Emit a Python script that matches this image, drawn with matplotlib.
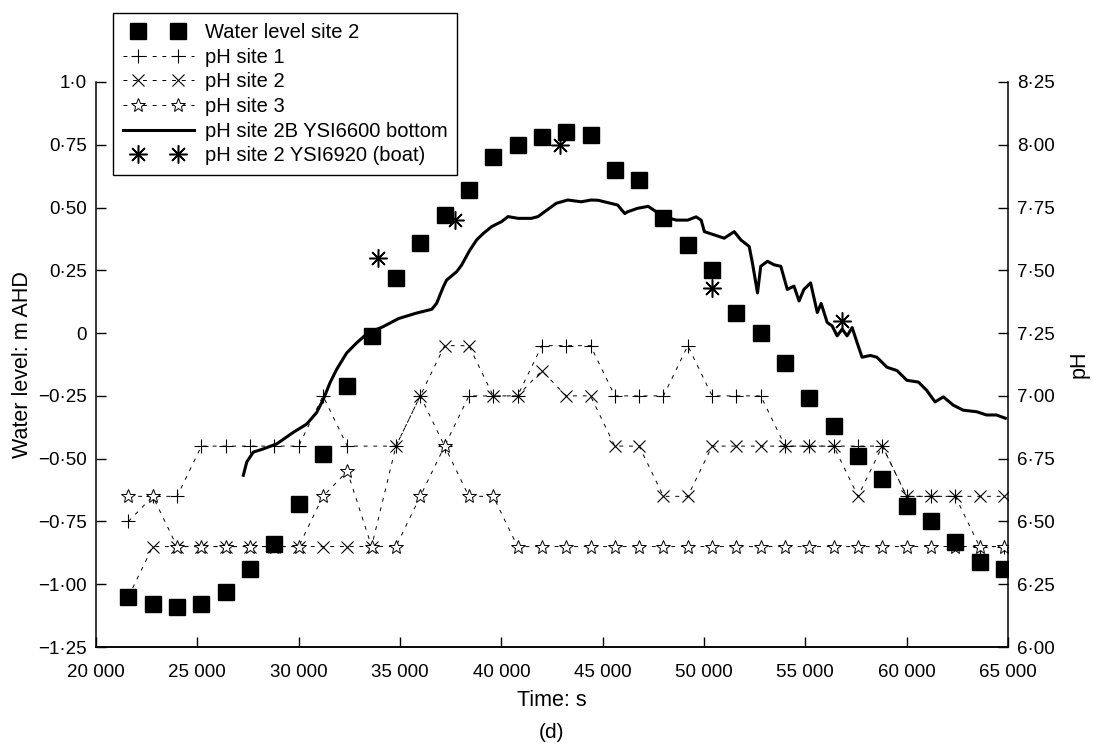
import matplotlib.pyplot as plt
from matplotlib.legend_handler import HandlerLine2DCompound

plt.rcParams['font.family'] = ['Liberation Sans', 'DejaVu Sans']
plt.rcParams['font.size'] = 13.5

# Spot samples every 20 min (s)
sample_time = [21600, 22800, 24000, 25200, 26400, 27600, 28800, 30000, 31200,
               32400, 33600, 34800, 36000, 37200, 38400, 39600, 40800, 42000,
               43200, 44400, 45600, 46800, 48000, 49200, 50400, 51600, 52800,
               54000, 55200, 56400, 57600, 58800, 60000, 61200, 62400, 63600,
               64800]

# Water level at site 2 (m AHD)
water_level = [-1.05, -1.08, -1.09, -1.08, -1.03, -0.94, -0.84, -0.68, -0.48,
               -0.21, -0.01, 0.22, 0.36, 0.47, 0.57, 0.70, 0.75, 0.78,
               0.80, 0.79, 0.65, 0.61, 0.46, 0.35, 0.25, 0.08, 0.00,
               -0.12, -0.26, -0.37, -0.49, -0.58, -0.69, -0.75, -0.83, -0.91,
               -0.94]

# site 1 has no reading at 33 600 s
site1_time = [21600, 22800, 24000, 25200, 26400, 27600, 28800, 30000, 31200,
              32400, 34800, 36000, 37200, 38400, 39600, 40800, 42000,
              43200, 44400, 45600, 46800, 48000, 49200, 50400, 51600, 52800,
              54000, 55200, 56400, 57600, 58800, 60000, 61200, 62400, 63600,
              64800]
ph_site1 = [6.5, 6.6, 6.6, 6.8, 6.8, 6.8, 6.8, 6.8, 7.0,
            6.8, 6.8, 7.0, 6.8, 7.0, 7.0, 7.0, 7.2,
            7.2, 7.2, 7.0, 7.0, 7.0, 7.2, 7.0, 7.0, 7.0,
            6.8, 6.8, 6.8, 6.8, 6.8, 6.6, 6.6, 6.6, 6.4,
            6.4]

ph_site2 = [6.2, 6.4, 6.4, 6.4, 6.4, 6.4, 6.4, 6.4, 6.4,
            6.4, 6.4, 6.8, 7.0, 7.2, 7.2, 7.0, 7.0, 7.1,
            7.0, 7.0, 6.8, 6.8, 6.6, 6.6, 6.8, 6.8, 6.8,
            6.8, 6.8, 6.8, 6.6, 6.8, 6.6, 6.6, 6.6, 6.6,
            6.6]

ph_site3 = [6.6, 6.6, 6.4, 6.4, 6.4, 6.4, 6.4, 6.4, 6.6,
            6.7, 6.4, 6.4, 6.6, 6.8, 6.6, 6.6, 6.4, 6.4,
            6.4, 6.4, 6.4, 6.4, 6.4, 6.4, 6.4, 6.4, 6.4,
            6.4, 6.4, 6.4, 6.4, 6.4, 6.4, 6.4, 6.4, 6.4,
            6.4]

# YSI6600 logger at the bottom of site 2B
logger_time = [27270, 27440, 27760, 28260, 28920, 29740, 30400, 30890, 31220,
               31550, 31870, 32370, 32860, 33400, 34150, 34930, 35780, 36570,
               36810, 37140, 37300, 37800, 38040, 38450, 38780, 39110, 39520,
               40010, 40330, 40830, 41480, 41810, 42130, 42710, 43280, 43940,
               44430, 44780, 45080, 45440, 45740, 46090, 46230, 46720, 47130,
               47240, 47650, 48060, 48630, 49200, 49610, 49860, 50020, 50510,
               51000, 51490, 51820, 52230, 52390, 52640, 52800, 53130, 53460,
               53790, 54110, 54440, 54690, 54930, 55260, 55590, 55780, 56080,
               56320, 56570, 56820, 57060, 57310, 57550, 57800, 58210, 58530,
               59030, 59520, 60010, 60580, 60990, 61400, 61810, 62300, 62790,
               63450, 63940, 64430, 64870]
logger_ph = [6.684, 6.737, 6.776, 6.789, 6.809, 6.855, 6.888, 6.934, 6.987,
             7.053, 7.105, 7.171, 7.211, 7.250, 7.275, 7.308, 7.329, 7.345,
             7.369, 7.435, 7.461, 7.495, 7.521, 7.581, 7.621, 7.647, 7.674,
             7.694, 7.714, 7.707, 7.707, 7.714, 7.733, 7.767, 7.780, 7.773,
             7.780, 7.779, 7.773, 7.766, 7.760, 7.726, 7.733, 7.747, 7.753,
             7.755, 7.733, 7.713, 7.700, 7.700, 7.713, 7.700, 7.654, 7.641,
             7.628, 7.654, 7.621, 7.595, 7.529, 7.410, 7.516, 7.536, 7.522,
             7.516, 7.424, 7.437, 7.378, 7.424, 7.450, 7.332, 7.368, 7.292,
             7.279, 7.239, 7.266, 7.239, 7.272, 7.213, 7.154, 7.161, 7.154,
             7.114, 7.101, 7.062, 7.055, 7.022, 6.976, 6.996, 6.963, 6.943,
             6.937, 6.924, 6.924, 6.911]

# YSI6920 readings from the boat
boat_time = [33900, 37700, 42900, 50400, 56800]
boat_ph = [7.55, 7.70, 8.00, 7.43, 7.30]

wl_ticks = [1.0, 0.75, 0.5, 0.25, 0.0, -0.25, -0.5, -0.75, -1.0, -1.25]
wl_labels = ['1·0', '0·75', '0·50', '0·25', '0', '\u22120·25', '\u22120·50',
             '\u22120·75', '\u22121·00', '\u22121·25']
ph_ticks = [8.25, 8.0, 7.75, 7.5, 7.25, 7.0, 6.75, 6.5, 6.25, 6.0]
ph_labels = ['8·25', '8·00', '7·75', '7·50', '7·25', '7·00', '6·75', '6·50',
             '6·25', '6·00']
time_ticks = [20000, 25000, 30000, 35000, 40000, 45000, 50000, 55000, 60000, 65000]
time_labels = ['20 000', '25 000', '30 000', '35 000', '40 000', '45 000',
               '50 000', '55 000', '60 000', '65 000']


class InsetMarkerHandler(HandlerLine2DCompound):
    """Legend key whose line runs the full width with the two markers set inwards."""

    def get_xdata(self, legend, xdescent, ydescent, width, height, fontsize):
        pad = 0.75 * fontsize
        line_x = [-xdescent, -xdescent + width]
        marker_x = [-xdescent + pad, -xdescent + width - pad]
        return line_x, marker_x


fig = plt.figure(figsize=(10.93, 7.44), dpi=100)
ax = fig.add_axes([96 / 1093, 97 / 744, 912 / 1093, 565 / 744])
axr = ax.twinx()
# keep the water level squares above the pH marks
ax.set_zorder(axr.get_zorder() + 1)
ax.patch.set_visible(False)

dash = (0, (4, 6))
h1, = axr.plot(site1_time, ph_site1, color='black', lw=0.7, ls=dash,
               marker='+', ms=9.5, mew=0.8)
h2, = axr.plot(sample_time, ph_site2, color='black', lw=0.7, ls=dash,
               marker='x', ms=8, mew=0.8)
h3, = axr.plot(sample_time, ph_site3, color='black', lw=0.7, ls=dash,
               marker='*', ms=10, mew=0.7, mfc='white')
h4, = axr.plot(logger_time, logger_ph, color='black', lw=2.2)
h5, = axr.plot(boat_time, boat_ph, ls='none', color='black',
               marker=(8, 2, 0), ms=13, mew=1.1)
h0, = ax.plot(sample_time, water_level, ls='none', color='black',
              marker='s', ms=11)

ax.set_xlim(20000, 65000)
ax.set_ylim(-1.25, 1.0)
axr.set_ylim(6.0, 8.25)

ax.set_xticks(time_ticks, labels=time_labels)
ax.set_yticks(wl_ticks, labels=wl_labels)
axr.set_yticks(ph_ticks, labels=ph_labels)

for a in (ax, axr):
    a.spines['top'].set_visible(False)
    a.tick_params(direction='in', length=7, width=1, pad=6.5, labelsize=13.5)
    for s in a.spines.values():
        s.set_linewidth(1.1)
ax.tick_params(axis='x', pad=12)
ax.spines['right'].set_visible(False)
axr.spines['left'].set_visible(False)

ax.set_xlabel('Time: s', fontsize=15.5, labelpad=7)
ax.set_ylabel('Water level: m AHD', fontsize=15.5, labelpad=4)
axr.set_ylabel('pH', fontsize=15.5, rotation=90, labelpad=10)

fig.text(552 / 1093, 1 - 733 / 744, '(d)', ha='center', va='center', fontsize=15)

handler = InsetMarkerHandler()
leg = ax.legend([h0, h1, h2, h3, h4, h5],
                ['Water level site 2', 'pH site 1', 'pH site 2', 'pH site 3',
                 'pH site 2B YSI6600 bottom', 'pH site 2 YSI6920 (boat)'],
                loc='upper left', bbox_to_anchor=(113 / 1093, 1 - 13 / 744),
                bbox_transform=fig.transFigure, handlelength=3.5,
                handler_map={h: handler for h in (h0, h1, h2, h3, h4, h5)},
                fancybox=False, edgecolor='black', framealpha=1,
                borderpad=0.5, labelspacing=0.28, handletextpad=0.55,
                borderaxespad=0, fontsize=14.5)
leg.get_frame().set_linewidth(1.0)

fig.savefig('out.png', dpi=100)
